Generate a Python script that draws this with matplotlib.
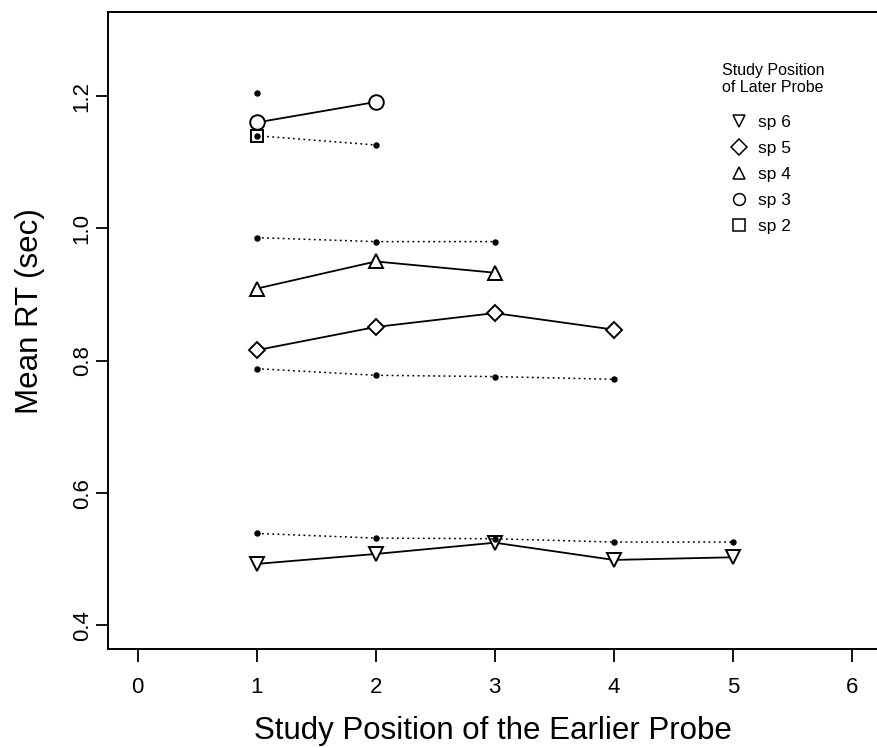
# Mean RT vs study position of the earlier probe

import matplotlib
matplotlib.use("Agg")
import matplotlib.pyplot as plt
from matplotlib.lines import Line2D

plt.rcParams['font.family'] = ['Liberation Sans', 'DejaVu Sans']

# earlier probe positions for each later-probe series
pos_sp6 = [1, 2, 3, 4, 5]
pos_sp5 = [1, 2, 3, 4]
pos_sp4 = [1, 2, 3]
pos_sp3 = [1, 2]
pos_sp2 = [1]

# observed mean RT (open markers, solid lines)
obs_sp6 = [0.493, 0.508, 0.525, 0.499, 0.503]
obs_sp5 = [0.816, 0.851, 0.872, 0.847]
obs_sp4 = [0.909, 0.950, 0.933]
obs_sp3 = [1.160, 1.191]
obs_sp2 = [1.140]

# small dots on dotted lines
dot_sp6 = [0.539, 0.532, 0.531, 0.526, 0.526]
dot_sp5 = [0.788, 0.778, 0.776, 0.772]
dot_sp4 = [0.986, 0.980, 0.980]
dot_sp3 = [1.140, 1.126]
dot_sp2 = [1.204]

legend_labels = ["sp 6", "sp 5", "sp 4", "sp 3", "sp 2"]
legend_markers = ["v", "D", "^", "o", "s"]

xticks = [0, 1, 2, 3, 4, 5, 6]
yticks = [0.4, 0.6, 0.8, 1.0, 1.2]
ytick_labels = ["0.4", "0.6", "0.8", "1.0", "1.2"]

fig = plt.figure(figsize=(8.78, 7.48), dpi=100)
ax = fig.add_axes([0.123, 0.132, 0.877, 0.852])

series = [
    (pos_sp6, obs_sp6, dot_sp6, "v", 10),
    (pos_sp5, obs_sp5, dot_sp5, "D", 8),
    (pos_sp4, obs_sp4, dot_sp4, "^", 10),
    (pos_sp3, obs_sp3, dot_sp3, "o", 10.5),
    (pos_sp2, obs_sp2, dot_sp2, "s", 9),
]

for xs, obs, dots, mk, ms in series:
    ax.plot(xs, obs, color="black", lw=1.3, marker=mk, ms=ms,
            mfc="white", mec="black", mew=1.4, zorder=3)

for xs, obs, dots, mk, ms in series:
    ax.plot(xs[:len(dots)], dots, color="black", lw=1.1,
            linestyle=(0, (1.2, 2.2)), marker="o", ms=3.6,
            mfc="black", mec="black", zorder=4)

ax.set_xlim(-0.25, 6.22)
ax.set_ylim(0.364, 1.327)
ax.set_xticks(xticks)
ax.set_yticks(yticks)
ax.set_yticklabels(ytick_labels, rotation=90, va="center")

ax.spines["right"].set_visible(False)
for s in ["left", "bottom", "top"]:
    ax.spines[s].set_linewidth(1.4)
ax.tick_params(axis="both", direction="out", length=9, width=1.3,
               labelsize=16)
ax.tick_params(axis="x", pad=11)
ax.tick_params(axis="y", pad=2)

ax.set_xlabel("Study Position of the Earlier Probe", fontsize=22.5)
ax.xaxis.set_label_coords(0.5, -0.105)
ax.set_ylabel("Mean RT (sec)", fontsize=22.5)
ax.yaxis.set_label_coords(-0.082, 0.53)

handles = [Line2D([], [], linestyle="none", marker=m, ms=8.5, mfc="white",
                  mec="black", mew=1.1) for m in legend_markers]
leg = ax.legend(handles, legend_labels, loc="upper left",
                bbox_to_anchor=(0.797, 0.852), frameon=False, fontsize=12.5,
                handlelength=1.0, handletextpad=0.6, labelspacing=0.62,
                borderpad=0)
ax.text(0.798, 0.92, "Study Position\nof Later Probe", transform=ax.transAxes,
        fontsize=11.5, va="top", ha="left", linespacing=1.15)

plt.savefig("out.png", dpi=100)
